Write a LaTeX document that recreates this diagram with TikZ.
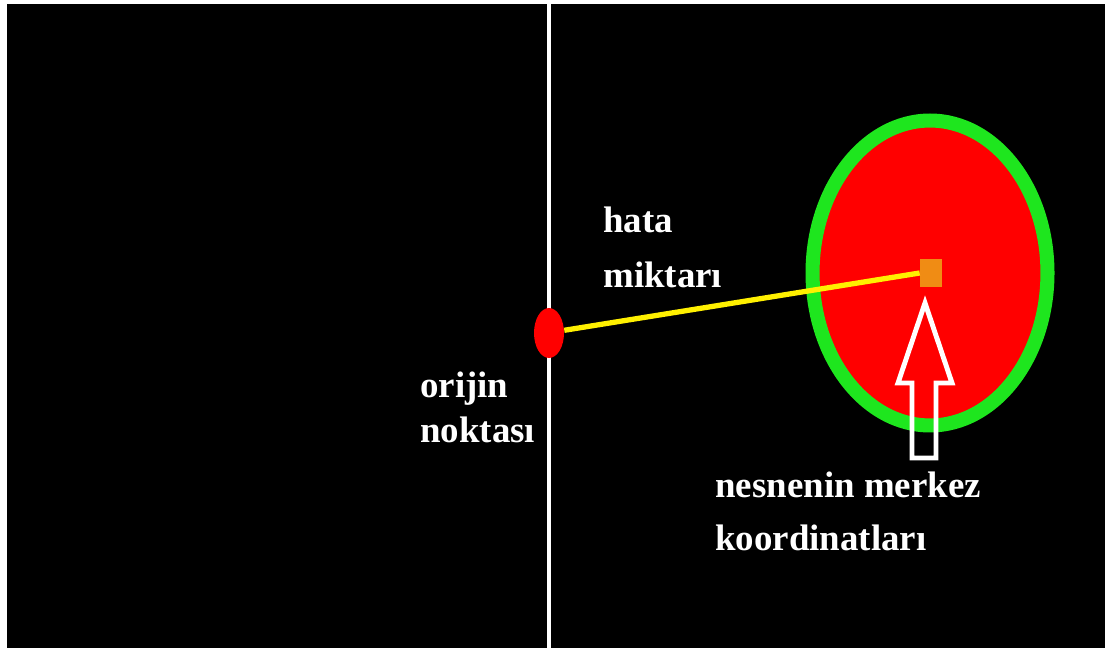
\documentclass[tikz,border=0pt]{standalone}
\usepackage{fontspec}
\setmainfont{Liberation Serif}
\usepackage{tikz}
\usetikzlibrary{shapes.geometric, positioning}
\definecolor{mRed}{HTML}{FF0000}
\definecolor{mGreen}{HTML}{1EE61E}
\definecolor{mYellow}{HTML}{FFF000}
\definecolor{mOrange}{HTML}{F08C14}

\begin{document}
\begin{tikzpicture}[x=0.02cm, y=-0.02cm,
    lbl/.style={text=white, anchor=base west, inner sep=0pt, align=left,
      font=\bfseries\fontsize{21}{31}\selectfont}]
    \useasboundingbox (0,0) rectangle (1112,648);
    \fill[black] (7,4) rectangle (1105,648);
    % eksen
    \coordinate (ust) at (549,4);
    \coordinate (alt) at (549,648);
    \draw[white, line width=2.8pt] (ust) -- (alt);
    % nesne ve noktalar
    \node[ellipse, draw=mGreen, line width=8pt, fill=mRed, inner sep=0pt,
      minimum width=4.7cm, minimum height=6.1cm] (nesne) at (930,273) {};
    \node[ellipse, fill=mRed, inner sep=0pt, minimum width=0.6cm,
      minimum height=1cm] (origin) at (549,333) {};
    \node[rectangle, fill=mOrange, inner sep=0pt, minimum width=0.44cm,
      minimum height=0.56cm] (merkez) at (931,273) {};
    \draw[mYellow, line width=3pt] (origin.10) -- (merkez.west);
    % ok
    \draw[white, line width=2.8pt, line join=miter]
      (925,303) -- (952,383) -- (936,383) -- (936,458) -- (912,458)
      -- (912,383) -- (898,383) -- cycle;
    % etiketler
    \node[lbl, font=\bfseries\fontsize{21}{31.5}\selectfont] (hata) at (603,288) {hata\\miktarı};
    \node[lbl, font=\bfseries\fontsize{21}{25.5}\selectfont] (orijin) at (420,442) {orijin\\noktası};
    \node[lbl, font=\bfseries\fontsize{21}{30}\selectfont] (koord) at (715,550) {nesnenin merkez\\koordinatları};
  \end{tikzpicture}
\end{document}
